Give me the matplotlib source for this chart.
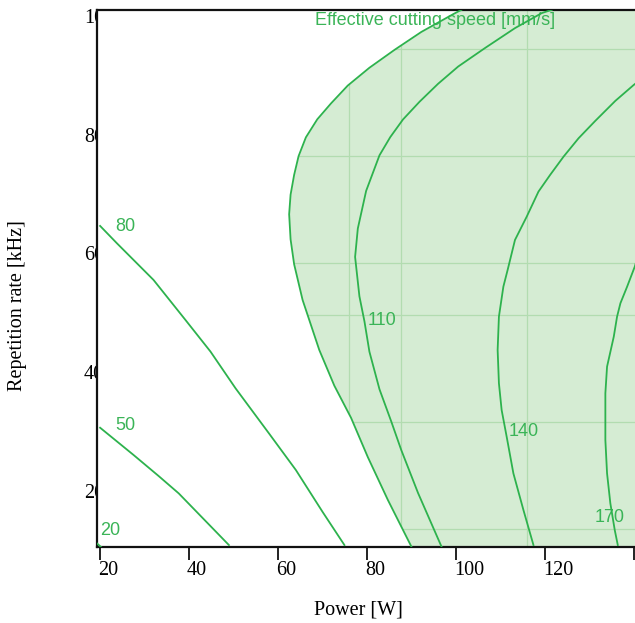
import matplotlib
matplotlib.use("Agg")
import matplotlib.pyplot as plt
import matplotlib.transforms as mtransforms

line_20_p = [19.3, 20.2]
line_20_r = [11.6, 11.0]

line_50_p = [20.0, 27.5, 33.15, 37.66, 48.94]
line_50_r = [31.08, 26.5, 22.95, 20.03, 11.33]

line_80_p = [20.0, 23.76, 32.0, 39.2, 44.8, 50.45, 57.97, 63.99, 70.0, 74.9]
line_80_r = [65.05, 62.14, 55.96, 49.2, 43.9, 37.7, 30.1, 23.96, 16.9, 11.33]

# boundary of the shaded region
line_100_p = [101.2, 99.34, 92.19, 86.16, 80.52, 75.65, 71.88, 68.8, 66.24,
              64.6, 63.6, 62.8, 62.48, 62.8, 63.6, 65.5, 69.25, 72.63, 76.4,
              80.16, 84.67, 89.93]
line_100_r = [101.43, 100.7, 97.71, 94.69, 91.68, 88.68, 85.67, 83.0, 79.96,
              76.8, 73.64, 70.3, 67.02, 62.8, 58.6, 52.59, 44.17, 38.16, 32.73,
              26.13, 18.91, 11.09]

line_110_p = [121.5, 119.25, 113.23, 106.46, 100.46, 95.95, 91.8, 88.06, 85.2,
              82.78, 79.78, 77.91, 77.3, 78.27, 79.4, 80.52, 82.78, 85.42,
              87.67, 91.44, 96.7]
line_110_r = [101.43, 100.88, 98.35, 94.98, 91.88, 88.98, 85.97, 82.97, 80.0,
              76.94, 70.95, 64.61, 59.83, 53.2, 48.99, 43.87, 37.55, 32.14,
              27.33, 20.1, 11.09]

line_140_p = [140.24, 139.94, 135.79, 131.28, 127.53, 124.15, 121.13, 118.51,
              115.87, 113.23, 111.59, 110.62, 109.62, 109.33, 109.62, 110.23,
              111.36, 112.87, 115.13, 117.38]
line_140_r = [88.97, 88.8, 86.11, 82.74, 79.82, 76.72, 73.64, 70.83, 66.62,
              62.69, 57.68, 54.83, 49.78, 44.17, 38.56, 34.06, 29.57, 23.4,
              17.22, 11.33]

line_170_p = [140.33, 140.15, 138.43, 136.92, 136.17, 135.43, 133.92, 133.54,
              133.54, 133.92, 134.66, 135.65, 136.33]
line_170_r = [58.65, 58.2, 54.83, 52.03, 49.78, 46.41, 41.36, 36.88, 29.01,
              23.4, 18.35, 13.85, 11.33]

# contour labels
label_text = ["20", "50", "80", "110", "140", "170"]
label_p = [22.3, 25.6, 25.6, 83.4, 115.2, 134.6]
label_r = [13.85, 31.5, 64.9, 49.05, 30.4, 16.0]

# tile seams inside the shaded area
seam_r = [94.83, 76.82, 58.79, 50.03, 31.98, 14.02]
seam_p = [75.94, 87.67, 115.98]

x_ticks = [20, 40, 60, 80, 100, 120, 140]
x_tick_labels = ["20", "40", "60", "80", "100", "120", ""]  # 140 falls off the edge
y_ticks = [20, 40, 60, 80, 100]

XLIM = (19.3, 140.2)
YLIM = (11.0, 101.4)

LINE = "#2db24d"
FILL = "#d5ecd3"
SEAM = "#b2dcb0"
TEXT = "#3ab457"
SERIF = "Liberation Serif"
SANS = "Liberation Sans"

fig = plt.figure(figsize=(6.35, 6.23), dpi=100)
ax = fig.add_axes([97 / 635, 1 - 547 / 623, 1 - 97 / 635, (547 - 10) / 623])
ax.set_xlim(*XLIM)
ax.set_ylim(*YLIM)

# shaded region right of the boundary contour
fill = ax.fill_betweenx(line_100_r, line_100_p, XLIM[1], color=FILL, lw=0, zorder=1)
clip = fill.get_paths()[0]
for r in seam_r:
    ln = ax.axhline(r, color=SEAM, lw=0.9, zorder=1.5)
    ln.set_clip_path(clip, fill.get_transform())
for p in seam_p:
    ln = ax.axvline(p, color=SEAM, lw=0.9, zorder=1.5)
    ln.set_clip_path(clip, fill.get_transform())

for px, ry in [(line_20_p, line_20_r), (line_50_p, line_50_r),
               (line_80_p, line_80_r), (line_100_p, line_100_r),
               (line_110_p, line_110_r), (line_140_p, line_140_r),
               (line_170_p, line_170_r)]:
    ax.plot(px, ry, color=LINE, lw=1.3, zorder=3, solid_joinstyle="round")

for t, p, r in zip(label_text, label_p, label_r):
    ax.text(p, r, t, color=TEXT, fontsize=13, family=SANS,
            ha="center", va="center", zorder=2)

ax.text(95.3, 99.7, "Effective cutting speed [mm/s]", color=TEXT, fontsize=13,
        family=SANS, ha="center", va="center", zorder=2)

# spines / ticks
for side in ["top", "left", "bottom"]:
    ax.spines[side].set_linewidth(1.6)
    ax.spines[side].set_color("#111111")
ax.spines["right"].set_visible(False)

ax.set_xticks(x_ticks)
ax.set_xticklabels(x_tick_labels, family=SERIF, fontsize=14.5, ha="left")
ax.tick_params(axis="x", direction="out", length=9, width=1.3, pad=1,
               color="#111111")
offset = mtransforms.ScaledTranslation(-2 / 100, 0, fig.dpi_scale_trans)
for lab in ax.get_xticklabels():
    lab.set_transform(lab.get_transform() + offset)

# y labels sit under the axes, so the plot area hides their right half
ax.set_yticks(y_ticks)
ax.set_yticklabels([])
ax.tick_params(axis="y", length=0)
ytrans = mtransforms.blended_transform_factory(fig.transFigure, ax.transData)
for v in y_ticks:
    fig.text(84 / 635, v, str(v), transform=ytrans, family=SERIF,
             fontsize=14.5, ha="left", va="center", zorder=-1)

fig.text(358 / 635, 1 - 610 / 623, "Power [W]", family=SERIF, fontsize=14.5,
         ha="center", va="center")
fig.text(18 / 635, 1 - 306 / 623, "Repetition rate [kHz]", family=SERIF,
         fontsize=14.5, ha="center", va="center", rotation=90)

fig.savefig("out.png", dpi=100)
